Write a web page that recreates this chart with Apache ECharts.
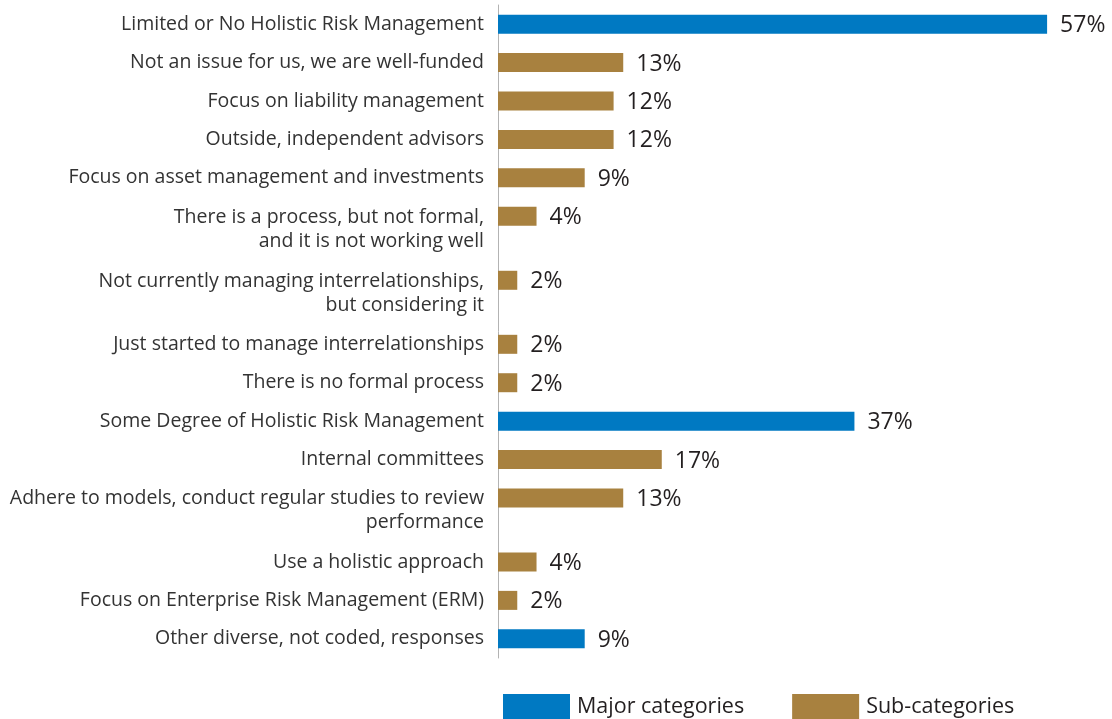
<!DOCTYPE html>
<html>
<head>
<meta charset="utf-8">
<script src="https://cdn.jsdelivr.net/npm/echarts@6/dist/echarts.min.js"></script>
<style>html,body{margin:0;padding:0;background:#fff;}#c{width:1112px;height:719px;}</style>
</head>
<body>
<div id="c"></div>
<script>
const categories = [
  "Limited or No Holistic Risk Management",
  "Not an issue for us, we are well-funded",
  "Focus on liability management",
  "Outside, independent advisors",
  "Focus on asset management and investments",
  "There is a process, but not formal,\nand it is not working well",
  "Not currently managing interrelationships,\nbut considering it",
  "Just started to manage interrelationships",
  "There is no formal process",
  "Some Degree of Holistic Risk Management",
  "Internal committees",
  "Adhere to models, conduct regular studies to review\nperformance",
  "Use a holistic approach",
  "Focus on Enterprise Risk Management (ERM)",
  "Other diverse, not coded, responses"
];
const values = [57, 13, 12, 12, 9, 4, 2, 2, 2, 37, 17, 13, 4, 2, 9];
const kinds = ["major","sub","sub","sub","sub","sub","sub","sub","sub","major","sub","sub","sub","sub","major"];
const seriesNames = { major: "Major categories", sub: "Sub-categories" };
const colors = { major: "#0079c2", sub: "#a8813f" };

// Build axis slots: each row takes 3 slots, plus 2 more per extra label line.
const axisCats = [''];
const majorData = [null];
const subData = [null];
categories.forEach((label, i) => {
  const lines = label.split('\n').length;
  const slots = 3 + 2 * (lines - 1);
  const start = axisCats.length;
  for (let s = 0; s < slots; s++) {
    axisCats.push('');
    majorData.push(null);
    subData.push(null);
  }
  axisCats[start + (lines - 1)] = label;
  if (kinds[i] === 'major') majorData[start] = values[i];
  else subData[start] = values[i];
});
axisCats.pop(); majorData.pop(); subData.pop();

const chart = echarts.init(document.getElementById('c'));
const labelOpt = {
  show: true, position: 'right', distance: 13, offset: [0, 1.5],
  formatter: p => p.value == null ? '' : p.value + '%',
  fontFamily: 'Open Sans', fontSize: 23, color: '#231f20'
};
chart.setOption({
  animation: false,
  textStyle: { fontFamily: 'Open Sans' },
  legend: {
    bottom: 0, left: 503, padding: 0, itemWidth: 67, itemHeight: 25, itemGap: 48,
    icon: 'rect',
    textStyle: { fontSize: 21.5, color: '#231f20', fontFamily: 'Open Sans', padding: [0, 0, 0, 2] },
    data: [seriesNames.major, seriesNames.sub]
  },
  grid: { left: 498, right: 36, top: 5, bottom: 61, containLabel: false },
  xAxis: { type: 'value', min: 0, max: 60, show: false },
  yAxis: {
    type: 'category', inverse: true, data: axisCats,
    axisLine: { show: true, lineStyle: { color: '#b3b3b3', width: 1 } },
    axisTick: { show: false },
    splitLine: { show: false },
    axisLabel: {
      interval: 0, margin: 14, fontSize: 19.5, lineHeight: 24, padding: [3, 0, 0, 0],
      color: '#333', fontFamily: 'Open Sans', align: 'right'
    }
  },
  series: [
    { name: seriesNames.major, type: 'bar', data: majorData, barWidth: 19, barGap: '-100%',
      itemStyle: { color: colors.major }, label: labelOpt },
    { name: seriesNames.sub, type: 'bar', data: subData, barWidth: 19, barGap: '-100%',
      itemStyle: { color: colors.sub }, label: labelOpt }
  ]
});
</script>
</body>
</html>
